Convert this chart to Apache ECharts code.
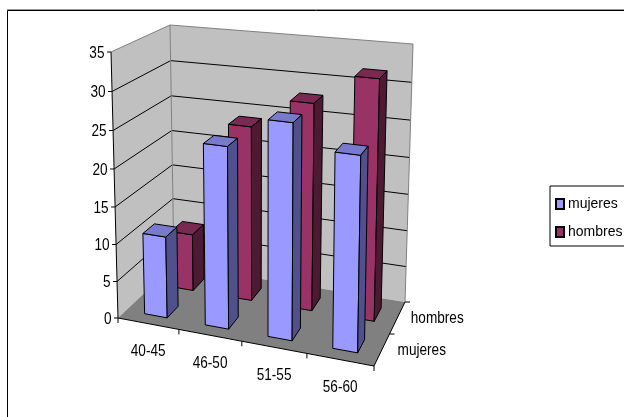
<!DOCTYPE html>
<html>
<head>
<meta charset="utf-8">
<style>html,body{margin:0;padding:0;background:#fff;overflow:hidden}#chart{width:624px;height:417px}</style>
<script src="https://cdn.jsdelivr.net/npm/echarts@6/dist/echarts.min.js"></script>
</head>
<body>
<div id="chart"></div>
<script>
// Ages, groups and counts plotted on the 3D column chart
const categories = ['40-45', '46-50', '51-55', '56-60'];
const seriesNames = ['mujeres', 'hombres'];
const mujeres = [11, 24, 28, 25];
const hombres = [8, 24, 28, 32];
const valueTicks = [0, 5, 10, 15, 20, 25, 30, 35];

const FONT = '17px "Liberation Sans", Arial, sans-serif';
const TEXT_SQUEEZE = 0.8;

// Corners of the plot box on screen: [front-left, front-right, back-left, back-right]
const FLOOR_CORNERS = [[118, 318], [374, 366], [174, 265], [405, 302]];
const CEILING_CORNERS = [[111, 52], [379, 80], [170, 25], [413, 44]];

const PALETTE = {
  mujeres: { front: '#9999FF', side: '#50508C', top: '#7A7ACC' },
  hombres: { front: '#993366', side: '#4D1A33', top: '#7A2952' }
};

const BAR_HALF_WIDTH = 0.376;   // share of half a category band
const BAR_HALF_DEPTH = 0.105;   // share of the box depth

const mix = (a, b, k) => [a[0] + (b[0] - a[0]) * k, a[1] + (b[1] - a[1]) * k];

// Maps u (along categories), v (into depth) and t (up the value axis) to the screen
function project(u, v, t) {
  const uu = u + 0.065 * u * (u - 1);
  const tt = t + 0.046 * t * (t - 1);
  const plane = (c) => mix(mix(c[0], c[1], uu), mix(c[2], c[3], uu), v);
  return mix(plane(FLOOR_CORNERS), plane(CEILING_CORNERS), tt);
}

// Normalised position of a data point inside the cartesian grid
function toUnit(params, api, cat, val) {
  const g = params.coordSys;
  const c = api.coord([cat, val]);
  return [(c[0] - g.x) / g.width, (g.y + g.height - c[1]) / g.height];
}

const poly = (points, fill, stroke, width) => ({
  type: 'polygon',
  shape: { points },
  style: { fill, stroke: stroke || null, lineWidth: width === undefined ? 1 : width, lineJoin: 'miter' }
});
const seg = (a, b, stroke) => ({
  type: 'line',
  shape: { x1: a[0], y1: a[1], x2: b[0], y2: b[1] },
  style: { stroke, lineWidth: 1 }
});
const label = (text, p, align) => ({
  type: 'text',
  x: p[0], y: p[1],
  scaleX: TEXT_SQUEEZE,
  style: { text, font: FONT, fill: '#000', textAlign: align, textVerticalAlign: 'middle' }
});

// Walls, floor, gridlines, ticks and tick labels
function renderBox(params, api) {
  const children = [];
  const g = params.coordSys;
  const GRAY = '#808080', BLACK = '#000';
  const WALL = '#C0C0C0';
  const fl = project(0, 0, 0), fr = project(1, 0, 0), bl = project(0, 1, 0), br = project(1, 1, 0);
  const flt = project(0, 0, 1), blt = project(0, 1, 1), brt = project(1, 1, 1);

  children.push(poly([fl, bl, blt, flt], WALL));
  children.push(poly([bl, br, brt, blt], WALL));
  children.push(poly([fl, fr, br, bl], GRAY));

  valueTicks.forEach((tick) => {
    const t = toUnit(params, api, 0, tick)[1];
    const a = project(0, 0, t), b = project(0, 1, t), c = project(1, 1, t);
    const isTop = tick === valueTicks[valueTicks.length - 1];
    if (tick !== valueTicks[0]) {
      children.push(seg(a, b, isTop ? GRAY : BLACK), seg(b, c, isTop ? GRAY : BLACK));
    }
    children.push(seg([a[0] - 4, a[1]], a, BLACK));
    children.push(label(String(tick), [a[0] - 6.5, a[1] + 1], 'right'));
  });

  children.push(seg(bl, blt, GRAY), seg(br, brt, GRAY));
  children.push(seg(fl, flt, BLACK), seg(fl, fr, BLACK), seg(fr, br, BLACK));

  // Category ticks sit on band edges, labels under band centres
  categories.forEach((name, i) => {
    const u = toUnit(params, api, i, 0)[0];
    const band = api.size([1, 0])[0] / g.width;
    const edge = project(u + band / 2, 0, 0);
    children.push(seg(edge, [edge[0], edge[1] + 5], BLACK));
    const c = project(u, 0, 0);
    children.push(label(name, [c[0], c[1] + 28], 'center'));
  });
  children.push(seg(fl, [fl[0], fl[1] + 5], BLACK));

  // Depth axis ticks and group names
  seriesNames.forEach((name, i) => {
    const depth = (i + 0.5) / seriesNames.length;
    const c = project(1, depth, 0);
    const edge = project(1, (i + 1) / seriesNames.length, 0);
    children.push(seg(edge, [edge[0] + 5, edge[1]], BLACK));
    children.push(label(name, [c[0] + 40, c[1]], 'center'));
  });

  return { type: 'group', children };
}

// One column: front, top and right faces
function barRenderer(name, seriesIndex) {
  return function (params, api) {
    const g = params.coordSys;
    const colors = PALETTE[name];
    const unit = toUnit(params, api, api.value(0), api.value(1));
    const halfW = (api.size([1, 0])[0] / g.width) / 2 * BAR_HALF_WIDTH;
    const depth = (seriesIndex + 0.5) / seriesNames.length;
    const u0 = unit[0] - halfW, u1 = unit[0] + halfW;
    const v0 = depth - BAR_HALF_DEPTH, v1 = depth + BAR_HALF_DEPTH;
    const t = unit[1];
    const a = project(u0, v0, 0), b = project(u1, v0, 0), c = project(u1, v0, t), d = project(u0, v0, t);
    const e = project(u1, v1, 0), f = project(u1, v1, t), h = project(u0, v1, t);
    return {
      type: 'group',
      children: [
        poly([a, b, c, d], colors.front, '#000'),
        poly([d, c, f, h], colors.top, '#000'),
        poly([b, e, f, c], colors.side, '#000')
      ]
    };
  };
}

const chart = echarts.init(document.getElementById('chart'), null, { renderer: 'canvas' });

chart.setOption({
  animation: false,
  backgroundColor: '#fff',
  grid: { left: 118, top: 52, width: 256, height: 266, containLabel: false },
  xAxis: { type: 'category', data: categories, show: false },
  yAxis: { type: 'value', min: 0, max: 35, interval: 5, show: false },
  graphic: [
    {
      type: 'line',
      silent: true,
      shape: { x1: 7, y1: 9.5, x2: 624, y2: 9.5 },
      style: { stroke: '#999', lineWidth: 1 }
    },
    {
      type: 'rect',
      silent: true,
      shape: { x: 7.5, y: 10.5, width: 800, height: 600 },
      style: { fill: 'none', stroke: '#000', lineWidth: 1 }
    }
  ],
  legend: {
    orient: 'vertical',
    left: 550,
    top: 186,
    padding: [11, 20, 7, 5],
    itemGap: 14,
    itemWidth: 8,
    itemHeight: 10,
    borderColor: '#000',
    borderWidth: 1,
    backgroundColor: '#fff',
    data: seriesNames.map((name) => ({ name, icon: 'rect' })),
    textStyle: { fontFamily: '"Liberation Sans", Arial, sans-serif', fontSize: 14, color: '#000', padding: [0, 0, 0, -1] },
    selectedMode: false
  },
  series: [
    {
      type: 'custom', name: 'box', z: 1, silent: true, clip: false,
      data: [[0, 0]],
      encode: { x: 0, y: 1 },
      renderItem: renderBox
    },
    {
      type: 'custom', name: seriesNames[0], z: 3, clip: false,
      data: mujeres.map((v, i) => [i, v]),
      encode: { x: 0, y: 1 },
      itemStyle: { color: PALETTE.mujeres.front, borderColor: '#000', borderWidth: 1 },
      renderItem: barRenderer(seriesNames[0], 0)
    },
    {
      type: 'custom', name: seriesNames[1], z: 2, clip: false,
      data: hombres.map((v, i) => [i, v]),
      encode: { x: 0, y: 1 },
      itemStyle: { color: PALETTE.hombres.front, borderColor: '#000', borderWidth: 1 },
      renderItem: barRenderer(seriesNames[1], 1)
    }
  ]
});
</script>
</body>
</html>
